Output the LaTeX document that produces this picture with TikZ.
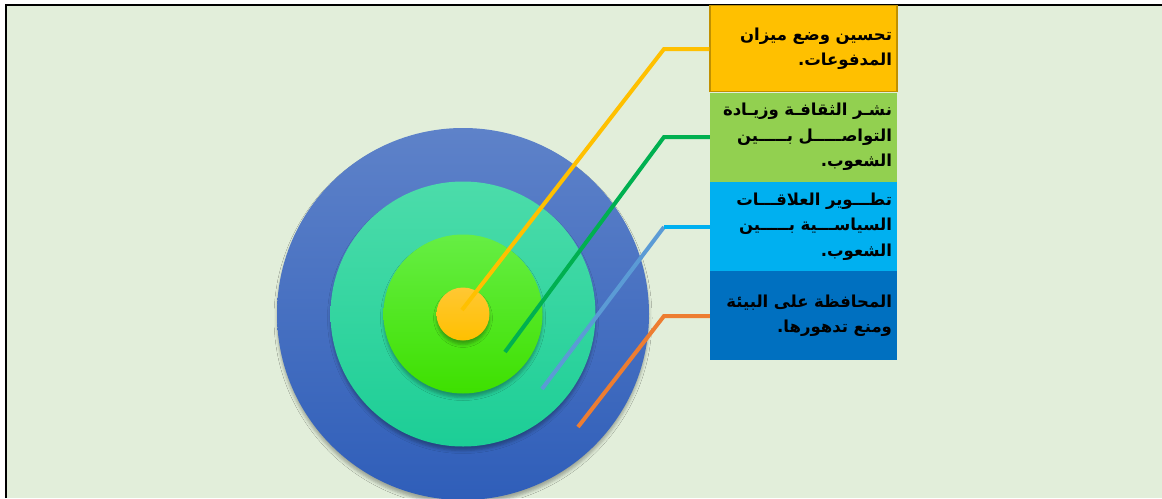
\documentclass[tikz,border=0pt]{standalone}
\usepackage{fontspec}
\usetikzlibrary{shadows.blur}
\TeXXeTstate=1
\newfontfamily\arabicfont[Script=Arabic]{DejaVu Sans}
\definecolor{bgc}{HTML}{E2EEDA}
\definecolor{yel}{HTML}{FFC000}
\definecolor{yeldark}{HTML}{C09000}
\definecolor{grn}{HTML}{92D050}
\definecolor{cyn}{HTML}{00B0F0}
\definecolor{blu}{HTML}{0070C0}
\definecolor{lgreen}{HTML}{00B050}
\definecolor{lblue}{HTML}{5B9BD5}
\definecolor{lorange}{HTML}{ED7D31}
\definecolor{outtop}{HTML}{5E82C9}
\definecolor{outbot}{HTML}{2F5EB9}
\definecolor{teatop}{HTML}{4CDCAA}
\definecolor{teabot}{HTML}{1CCE96}
\definecolor{gretop}{HTML}{66EE44}
\definecolor{grebot}{HTML}{3EE000}
\definecolor{yeltop}{HTML}{FFC733}
\definecolor{yelbot}{HTML}{FFC000}
\newcommand{\rl}[1]{\mbox{\beginR #1\endR}}
\tikzset{
  ring/.style={circle, inner sep=0pt, draw=none,
    blur shadow={shadow xshift=0pt, shadow yshift=-4pt, shadow blur radius=3pt, shadow opacity=30}},
  infobox/.style={rectangle, inner xsep=5pt, inner ysep=0pt, text width=177pt,
    minimum height=89pt, align=right, font=\arabicfont\bfseries\fontsize{16.5}{25.5}\selectfont, text=black},
  conn/.style={line width=4pt, line join=miter}
}
\begin{document}
\begin{tikzpicture}[x=1pt,y=-1pt]
\useasboundingbox (0,0) rectangle (1162,498);
\fill[white] (0,0) rectangle (1162,498);
\fill[bgc] (6,5) rectangle (1162,498);
\draw[black, line width=2pt] (6,498) -- (6,5) -- (1162,5);
% circles
\node[ring, minimum size=372pt, top color=outtop, bottom color=outbot] (c3) at (463,314) {};
\node[ring, minimum size=265pt, top color=teatop, bottom color=teabot] (c2) at (463,314) {};
\node[ring, minimum size=159pt, top color=gretop, bottom color=grebot] (c1) at (463,314) {};
\node[ring, minimum size=53pt, top color=yeltop, bottom color=yelbot] (c0) at (463,314) {};
% boxes
\node[infobox, fill=yel, draw=yeldark, line width=1.5pt, minimum height=86pt] (b1) at (803.5,48.5)
  {\rl{تحسين وضع ميزان}\\\rl{المدفوعات.}};
\node[infobox, fill=grn] (b2) at (803.5,137)
  {\rl{نشـر الثقافـة وزيـادة}\\\rl{التواصـــــل بـــــين}\\\rl{الشعوب.}};
\node[infobox, fill=cyn] (b3) at (803.5,226.5)
  {\rl{تطـــوير العلاقـــات}\\\rl{السياســـية بـــــين}\\\rl{الشعوب.}};
\node[infobox, fill=blu] (b4) at (803.5,315.5)
  {\rl{المحافظة على البيئة}\\\rl{ومنع تدهورها.}};
% connectors
\coordinate (e1) at (462,310);
\coordinate (k1) at (664,49);
\coordinate (e2) at (505,352);
\coordinate (k2) at (664,137);
\coordinate (e3) at (542,389);
\coordinate (k3) at (664,227);
\coordinate (e4) at (578,427);
\coordinate (k4) at (664,316);
\draw[conn, yel] (e1) -- (k1) -- (b1.west |- k1);
\draw[conn, lgreen] (e2) -- (k2) -- (b2.west |- k2);
\draw[conn, lblue] (e3) -- (k3);
\draw[conn, cyn] (k3) -- (b3.west |- k3);
\draw[conn, lorange] (e4) -- (k4) -- (b4.west |- k4);
\end{tikzpicture}
\end{document}
